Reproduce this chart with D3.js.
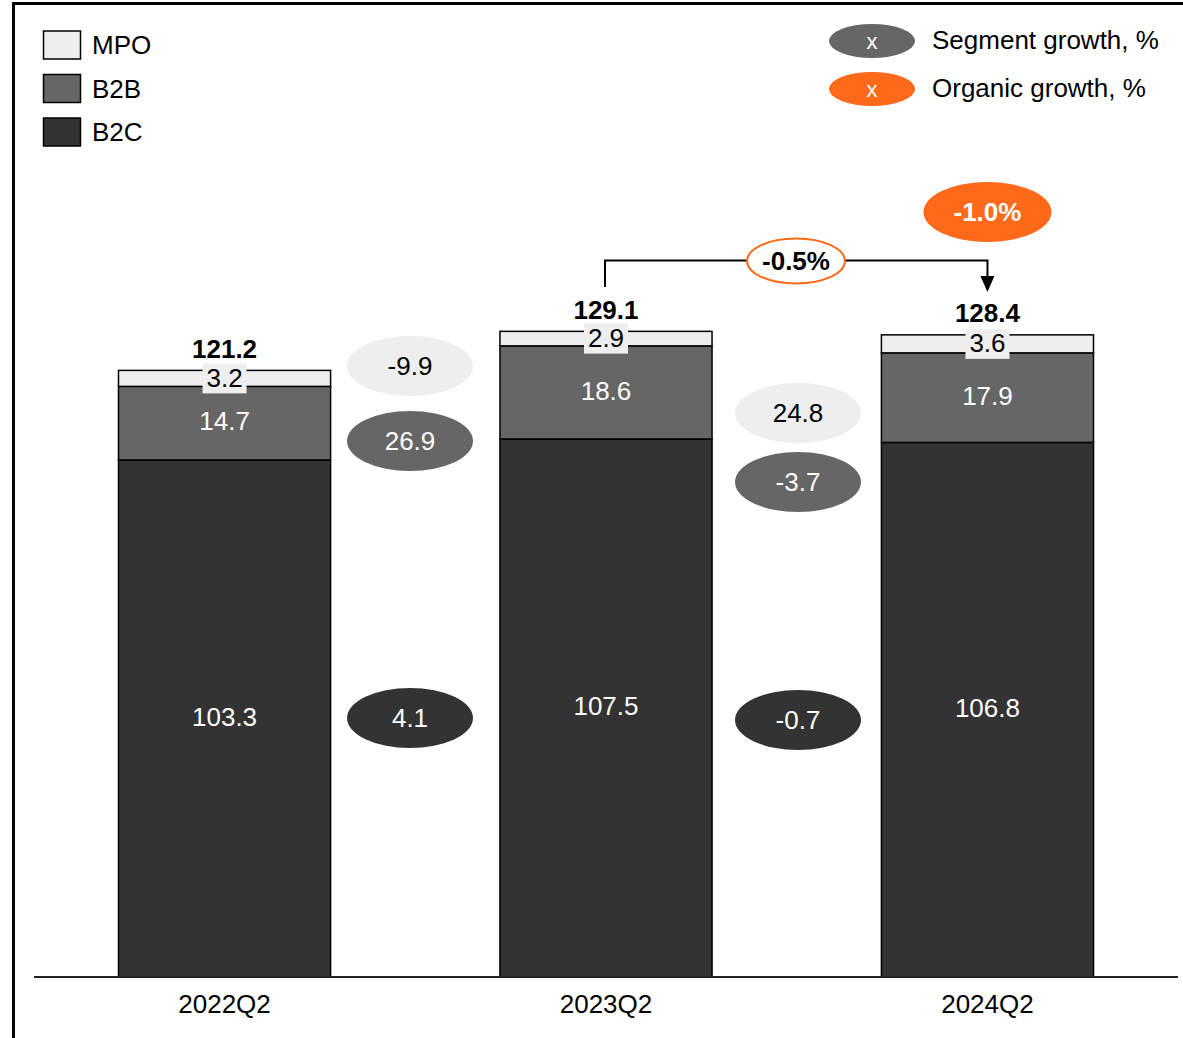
<!DOCTYPE html>
<html>
<head>
<meta charset="utf-8">
<script src="https://cdn.jsdelivr.net/npm/d3@7"></script>
<style>
  body { margin: 0; background: #fff; }
  text { font-family: "Liberation Sans", Arial, sans-serif; }
</style>
</head>
<body>
<svg id="chart" width="1183" height="1038"></svg>
<script>
// chart data
const periods = ["2022Q2", "2023Q2", "2024Q2"];
const segments = ["B2C", "B2B", "MPO"];
const b2c = [103.3, 107.5, 106.8];
const b2b = [14.7, 18.6, 17.9];
const mpo = [3.2, 2.9, 3.6];
const totals = [121.2, 129.1, 128.4];

// segment growth between periods (gap 1 = 22->23, gap 2 = 23->24)
const growthMPO = ["-9.9", "24.8"];
const growthB2B = ["26.9", "-3.7"];
const growthB2C = ["4.1", "-0.7"];
const organicStep = "-0.5%";
const organicTotal = "-1.0%";

const colors = { MPO: "#eeeeee", B2B: "#666666", B2C: "#333333" };
const orange = "#ff6a1a";

const svg = d3.select("#chart");

// frame (top + left edge visible)
svg.append("rect")
    .attr("x", 13.5).attr("y", 3.5)
    .attr("width", 1300).attr("height", 1200)
    .attr("fill", "none").attr("stroke", "#000").attr("stroke-width", 3);

const x = d3.scaleBand()
    .domain(periods)
    .range([34, 1178])
    .paddingInner(0.444)
    .paddingOuter(0.2215);

const y = d3.scaleLinear()
    .domain([0, 150])
    .range([977, 977 - 150 * 5.005]);

// stack
const rows = periods.map((p, i) => ({ period: p, B2C: b2c[i], B2B: b2b[i], MPO: mpo[i] }));
const stacked = d3.stack().keys(segments)(rows);

const g = svg.append("g");
stacked.forEach(layer => {
    g.selectAll(null)
        .data(layer)
        .enter().append("rect")
        .attr("x", d => x(d.data.period))
        .attr("y", d => y(d[1]))
        .attr("width", x.bandwidth())
        .attr("height", d => y(d[0]) - y(d[1]))
        .attr("fill", colors[layer.key])
        .attr("stroke", "#000")
        .attr("stroke-width", 1.5);
});

// segment labels
stacked.forEach(layer => {
    layer.forEach(d => {
        const cx = x(d.data.period) + x.bandwidth() / 2;
        const cy = (y(d[0]) + y(d[1])) / 2;
        const val = d.data[layer.key].toFixed(1);
        if (layer.key === "MPO") {
            svg.append("rect")
                .attr("x", cx - 22).attr("y", cy - 15)
                .attr("width", 44).attr("height", 30)
                .attr("fill", colors.MPO);
            svg.append("text")
                .attr("x", cx).attr("y", cy).attr("dy", "0.32em")
                .attr("text-anchor", "middle")
                .attr("font-size", 26).attr("fill", "#000")
                .text(val);
        } else {
            svg.append("text")
                .attr("x", cx).attr("y", cy)
                .attr("dy", "0.28em")
                .attr("text-anchor", "middle")
                .attr("font-size", 26).attr("fill", "#fff")
                .text(val);
        }
    });
});

// totals
periods.forEach((p, i) => {
    svg.append("text")
        .attr("x", x(p) + x.bandwidth() / 2)
        .attr("y", y(totals[i]) - 12)
        .attr("text-anchor", "middle")
        .attr("font-size", 26).attr("font-weight", "bold")
        .text(totals[i].toFixed(1));
});

// axis
svg.append("line")
    .attr("x1", 34).attr("x2", 1178)
    .attr("y1", 977).attr("y2", 977)
    .attr("stroke", "#222").attr("stroke-width", 2);
periods.forEach(p => {
    svg.append("text")
        .attr("x", x(p) + x.bandwidth() / 2)
        .attr("y", 1013)
        .attr("text-anchor", "middle")
        .attr("font-size", 26)
        .text(p);
});

// growth ellipses between bars
const gapX = [410, 798];
const ellY = { MPO: [366, 413], B2B: [441, 482], B2C: [718, 720] };
const growth = { MPO: growthMPO, B2B: growthB2B, B2C: growthB2C };
segments.forEach(s => {
    growth[s].forEach((v, j) => {
        svg.append("ellipse")
            .attr("cx", gapX[j]).attr("cy", ellY[s][j])
            .attr("rx", 63).attr("ry", 30)
            .attr("fill", colors[s]);
        svg.append("text")
            .attr("x", gapX[j]).attr("y", ellY[s][j]).attr("dy", "0.36em")
            .attr("text-anchor", "middle")
            .attr("font-size", 26)
            .attr("fill", s === "MPO" ? "#000" : "#fff")
            .text(v);
    });
});

// bracket 2023 -> 2024
const bx1 = x(periods[1]) + x.bandwidth() / 2 - 1;
const bx2 = x(periods[2]) + x.bandwidth() / 2;
svg.append("path")
    .attr("d", `M${bx1},287 V260.5 H${bx2} V278`)
    .attr("fill", "none").attr("stroke", "#000").attr("stroke-width", 2);
svg.append("path")
    .attr("d", `M${bx2 - 7},276 L${bx2 + 7},276 L${bx2},292 Z`)
    .attr("fill", "#000");
svg.append("ellipse")
    .attr("cx", 796).attr("cy", 261)
    .attr("rx", 49).attr("ry", 22.5)
    .attr("fill", "#fff").attr("stroke", orange).attr("stroke-width", 2);
svg.append("text")
    .attr("x", 796).attr("y", 261).attr("dy", "0.36em")
    .attr("text-anchor", "middle")
    .attr("font-size", 26).attr("font-weight", "bold")
    .text(organicStep);

svg.append("ellipse")
    .attr("cx", bx2).attr("cy", 212)
    .attr("rx", 64).attr("ry", 30)
    .attr("fill", orange);
svg.append("text")
    .attr("x", bx2).attr("y", 212).attr("dy", "0.36em")
    .attr("text-anchor", "middle")
    .attr("font-size", 26).attr("font-weight", "bold").attr("fill", "#fff")
    .text(organicTotal);

// legend: segments
const legendKeys = ["MPO", "B2B", "B2C"];
legendKeys.forEach((k, i) => {
    const ly = 31 + i * 43.5;
    svg.append("rect")
        .attr("x", 43.5).attr("y", ly)
        .attr("width", 37).attr("height", 28)
        .attr("fill", colors[k]).attr("stroke", "#000").attr("stroke-width", 1.5);
    svg.append("text")
        .attr("x", 92).attr("y", ly + 14).attr("dy", "0.36em")
        .attr("font-size", 26)
        .text(k);
});

// legend: growth markers
const growthLegend = [
    { label: "Segment growth, %", fill: "#666666" },
    { label: "Organic growth, %", fill: orange }
];
growthLegend.forEach((d, i) => {
    const ly = 41 + i * 48;
    svg.append("ellipse")
        .attr("cx", 872).attr("cy", ly)
        .attr("rx", 43).attr("ry", 17)
        .attr("fill", d.fill);
    svg.append("text")
        .attr("x", 872).attr("y", ly).attr("dy", "0.36em")
        .attr("text-anchor", "middle")
        .attr("font-size", 22).attr("fill", "#fff")
        .text("x");
    svg.append("text")
        .attr("x", 932).attr("y", ly).attr("dy", "0.3em")
        .attr("font-size", 26)
        .text(d.label);
});
</script>
</body>
</html>
